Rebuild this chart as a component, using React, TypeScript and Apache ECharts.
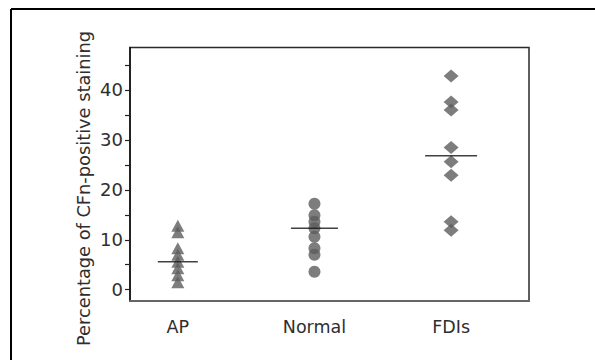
import React, { useEffect, useRef } from "react";
import * as echarts from "echarts";

const categories = ["AP", "Normal", "FDIs"];
const apValues = [12.8, 11.5, 8.3, 7.0, 5.6, 4.3, 2.9, 1.5];
const normalValues = [17.2, 14.9, 13.6, 12.3, 10.6, 8.3, 7.0, 3.6];
const fdiValues = [42.8, 37.6, 36.0, 28.5, 25.6, 22.9, 13.6, 11.9];
const meanValues = [5.6, 12.3, 26.8];
const yTickValues = [0, 5, 10, 15, 20, 25, 30, 35, 40, 45];
const yLabelValues = [0, 10, 20, 30, 40];
const yTitle = "Percentage of CFn-positive staining";

const FONT = "DejaVu Sans";
const MARK = "#5c5c5c";
const TEXT = "#2e2e2e";

export default function App() {
  const ref = useRef<HTMLDivElement>(null);
  useEffect(() => {
    if (!ref.current) return;
    const chart = echarts.init(ref.current, null, { renderer: "svg" });
    const meanWidths = [40, 47, 52];
    chart.setOption({
      animation: false,
      grid: {
        left: 130,
        right: 66,
        top: 47.5,
        bottom: 59,
        show: true,
        borderColor: "#2a2a2a",
        borderWidth: 1.5,
        backgroundColor: "transparent",
      },
      xAxis: {
        type: "value",
        min: 0.65,
        max: 3.57,
        splitLine: { show: false },
        axisLine: { show: true, onZero: false, lineStyle: { color: "#666", width: 2 } },
        axisTick: { show: false },
        axisLabel: {
          customValues: [1, 2, 3],
          formatter: (v: number) => categories[Math.round(v) - 1] ?? "",
          color: TEXT,
          fontFamily: FONT,
          fontSize: 17.5,
          margin: 17,
        },
      },
      yAxis: {
        type: "value",
        min: -2.26,
        max: 48.5,
        splitLine: { show: false },
        axisLine: { show: true, onZero: false, lineStyle: { color: "#111", width: 1.5 } },
        axisTick: {
          show: true,
          customValues: yTickValues,
          length: 5,
          lineStyle: { color: "#222", width: 1.2 },
        },
        axisLabel: {
          customValues: yLabelValues,
          color: TEXT,
          fontFamily: FONT,
          fontSize: 18,
          margin: 7,
        },
      },
      graphic: [
        {
          type: "line",
          shape: { x1: 11, y1: 9, x2: 600, y2: 9 },
          style: { stroke: "#000", lineWidth: 2 },
        },
        {
          type: "line",
          shape: { x1: 11, y1: 9, x2: 11, y2: 370 },
          style: { stroke: "#000", lineWidth: 2 },
        },
        {
          type: "text",
          x: 83,
          y: 188.5,
          rotation: Math.PI / 2,
          style: {
            text: yTitle,
            fontFamily: FONT,
            fontSize: 17.8,
            fill: TEXT,
            textAlign: "center",
            textVerticalAlign: "middle",
          },
        },
      ],
      series: [
        {
          type: "scatter",
          name: "AP",
          symbol: "triangle",
          symbolSize: [13, 12],
          itemStyle: { color: MARK },
          data: apValues.map((v) => [1, v]),
        },
        {
          type: "scatter",
          name: "Normal",
          symbol: "circle",
          symbolSize: 12,
          itemStyle: { color: MARK },
          data: normalValues.map((v) => [2, v]),
        },
        {
          type: "scatter",
          name: "FDIs",
          symbol: "diamond",
          symbolSize: [15, 13],
          itemStyle: { color: MARK },
          data: fdiValues.map((v) => [3, v]),
        },
        {
          type: "scatter",
          name: "Mean",
          symbol: "rect",
          z: 5,
          itemStyle: { color: "#111" },
          data: meanValues.map((v, i) => ({
            value: [i + 1, v],
            symbolSize: [meanWidths[i], 1.5],
          })),
        },
      ],
    });
    return () => chart.dispose();
  }, []);
  return <div ref={ref} style={{ width: 595, height: 360, position: "absolute", left: 0, top: 0, background: "#fff" }} />;
}
